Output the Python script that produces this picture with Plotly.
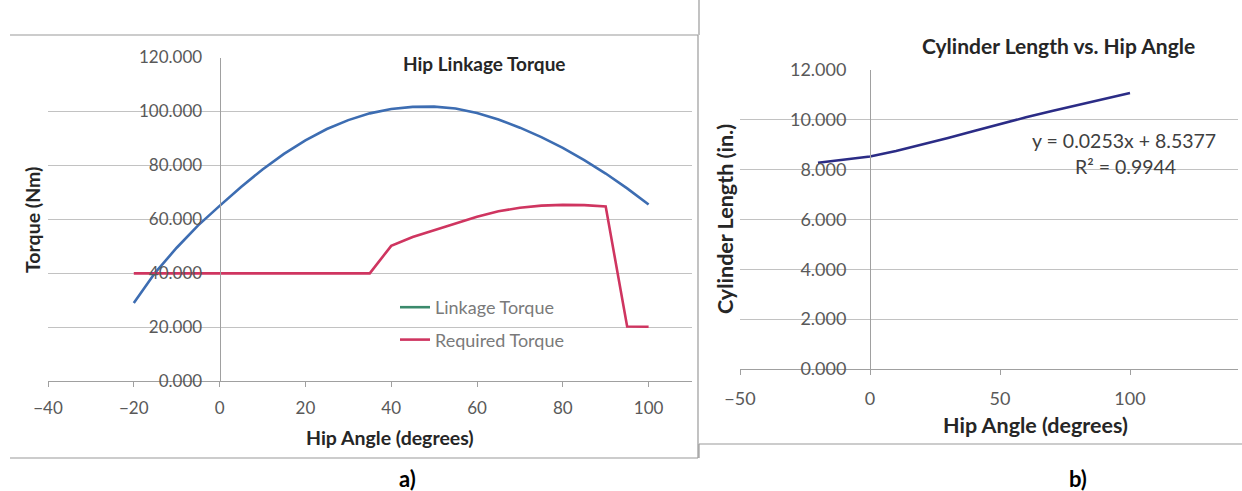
import plotly.graph_objects as go

W, H = 1242, 491

# ---- Panel a) Hip Linkage Torque ----
angle_a = [-20, -15, -10, -5, 0, 5, 10, 15, 20, 25, 30, 35, 40, 45, 50,
           55, 60, 65, 70, 75, 80, 85, 90, 95, 100]
linkage_torque = [29.0, 40.3, 49.5, 57.8, 65.0, 72.0, 78.5, 84.3, 89.3, 93.5,
                  96.8, 99.3, 100.9, 101.7, 101.8, 101.1, 99.4, 97.0, 94.0,
                  90.5, 86.5, 82.0, 77.0, 71.5, 65.5]
required_torque = [40.0, 40.0, 40.0, 40.0, 40.0, 40.0, 40.0, 40.0, 40.0, 40.0,
                   40.0, 40.0, 50.2, 53.5, 56.0, 58.5, 61.0, 63.0, 64.3,
                   65.1, 65.4, 65.3, 64.8, 20.3, 20.2]
yticks_a = [0, 20, 40, 60, 80, 100, 120]
xticks_a = [-40, -20, 0, 20, 40, 60, 80, 100]

# ---- Panel b) Cylinder Length vs. Hip Angle ----
angle_b = [-20, -10, 0, 10, 20, 30, 40, 50, 60, 70, 80, 90, 100]
cyl_length = [8.28, 8.40, 8.53, 8.75, 9.00, 9.27, 9.55, 9.83, 10.10, 10.35,
              10.60, 10.85, 11.08]
yticks_b = [0, 2, 4, 6, 8, 10, 12]
xticks_b = [-50, 0, 50, 100]
fit_text = ["y = 0.0253x + 8.5377", "R² = 0.9944"]


def px(x):
    return x / W


def py(y):
    return 1 - y / H


FONT = "Lato, 'Open Sans', sans-serif"
TICK = "#595959"
TITLE = "#262626"
GRID = "#c2c2c2"
AXIS = "#a0a0a0"

# axis geometry (pixels of the reference)
ax_a_x = [48, 691.5]
ax_a_y = [381.3, 57.5]
xr_a = [-40, 110]
ax_b_x = [740, 1238]
ax_b_y = [369, 70]
xr_b = [-50, -50 + (1238 - 740) / 2.6]

pos_a = px(ax_a_x[0] + (0 - xr_a[0]) / (xr_a[1] - xr_a[0]) * (ax_a_x[1] - ax_a_x[0]))
pos_b = px(ax_b_x[0] + (0 - xr_b[0]) / (xr_b[1] - xr_b[0]) * (ax_b_x[1] - ax_b_x[0]))

fig = go.Figure()

fig.add_trace(go.Scatter(x=angle_a, y=linkage_torque, mode="lines",
                         name="Linkage Torque", showlegend=False,
                         line=dict(color="#3d6db2", width=2.6),
                         xaxis="x", yaxis="y"))
fig.add_trace(go.Scatter(x=[None], y=[None], mode="lines",
                         name="Linkage Torque", legendgroup="g1",
                         line=dict(color="#3b8a6c", width=2.6),
                         xaxis="x", yaxis="y"))
fig.add_trace(go.Scatter(x=angle_a, y=required_torque, mode="lines",
                         name="Required Torque", legendgroup="g2",
                         line=dict(color="#cf3560", width=2.6),
                         xaxis="x", yaxis="y"))
fig.add_trace(go.Scatter(x=angle_b, y=cyl_length, mode="lines",
                         name="Cylinder Length", showlegend=False,
                         line=dict(color="#2b2c86", width=2.6),
                         xaxis="x2", yaxis="y2"))


def xax(size):
    return dict(showgrid=False, zeroline=False, showline=True, linecolor=AXIS,
                ticks="outside", ticklen=5, tickcolor=AXIS, automargin=False,
                tickfont=dict(family=FONT, size=size, color=TICK))


def yax(size):
    return dict(showgrid=True, gridcolor=GRID, gridwidth=1.3, zeroline=False,
                showline=True, linecolor=AXIS, ticks="", automargin=False,
                tickfont=dict(family=FONT, size=size, color=TICK),
                tickformat=".3f", anchor="free")


fig.update_layout(
    width=W, height=H,
    margin=dict(l=0, r=0, t=0, b=0),
    paper_bgcolor="white", plot_bgcolor="white",
    showlegend=True,
    legend=dict(x=px(395), y=py(289), xanchor="left", yanchor="top",
                bgcolor="rgba(0,0,0,0)", tracegroupgap=6,
                traceorder="grouped",
                font=dict(family=FONT, size=18, color="#7a7a7a")),
    xaxis=dict(domain=[px(ax_a_x[0]), px(ax_a_x[1])], range=xr_a,
               tickvals=xticks_a, anchor="y", ticklabelstandoff=6, **xax(17)),
    yaxis=dict(domain=[py(ax_a_y[0]), py(ax_a_y[1])], range=[0, 120],
               tickvals=yticks_a, position=pos_a, ticklabelstandoff=14,
               **yax(17)),
    xaxis2=dict(domain=[px(ax_b_x[0]), px(ax_b_x[1])], range=xr_b,
                tickvals=xticks_b, anchor="y2", ticklabelstandoff=8, **xax(18)),
    yaxis2=dict(domain=[py(ax_b_y[0]), py(ax_b_y[1])], range=[0, 12],
                tickvals=yticks_b, position=pos_b, ticklabelstandoff=20,
                **yax(18)),
)

ann = []
ann.append(dict(text="<b>Hip Linkage Torque</b>", x=px(484), y=py(63),
                font=dict(family=FONT, size=19, color=TITLE)))
ann.append(dict(text="<b>Cylinder Length vs. Hip Angle</b>", x=px(1058), y=py(45),
                font=dict(family=FONT, size=21, color=TITLE)))
ann.append(dict(text="<b>Hip Angle (degrees)</b>", x=px(390), y=py(437),
                font=dict(family=FONT, size=19.5, color=TITLE)))
ann.append(dict(text="<b>Hip Angle (degrees)</b>", x=px(1035), y=py(425),
                font=dict(family=FONT, size=21.5, color=TITLE)))
ann.append(dict(text="<b>Torque (Nm)</b>", x=px(32), y=py(220), textangle=-90,
                font=dict(family=FONT, size=19.5, color=TITLE)))
ann.append(dict(text="<b>Cylinder Length (in.)</b>", x=px(725), y=py(219),
                textangle=-90,
                font=dict(family=FONT, size=21.5, color=TITLE)))
ann.append(dict(text=fit_text[0], x=px(1124), y=py(140),
                font=dict(family=FONT, size=19.5, color="#404040")))
ann.append(dict(text=fit_text[1], x=px(1125), y=py(166),
                font=dict(family=FONT, size=19.5, color="#404040")))
ann.append(dict(text="<b>a)</b>", x=px(407), y=py(478),
                font=dict(family=FONT, size=22, color="black")))
ann.append(dict(text="<b>b)</b>", x=px(1078), y=py(478),
                font=dict(family=FONT, size=22, color="black")))
for a in ann:
    a.update(xref="paper", yref="paper", showarrow=False,
             xanchor="center", yanchor="middle")
fig.update_layout(annotations=ann)

FRAME = "#9a9a9a"
shapes = [
    dict(x0=px(10), x1=px(698), y0=py(35), y1=py(35)),
    dict(x0=px(10), x1=px(698), y0=py(458), y1=py(458)),
    dict(x0=px(698), x1=px(698), y0=py(35), y1=py(458)),
    dict(x0=px(699), x1=px(699), y0=py(0), y1=py(35)),
    dict(x0=px(699), x1=px(699), y0=py(444), y1=py(458)),
    dict(x0=px(699), x1=px(1242), y0=py(444), y1=py(444)),
]
for s in shapes:
    s.update(type="line", xref="paper", yref="paper",
             line=dict(color=FRAME, width=1.2))
fig.update_layout(shapes=shapes)

fig.write_html("out.html")
